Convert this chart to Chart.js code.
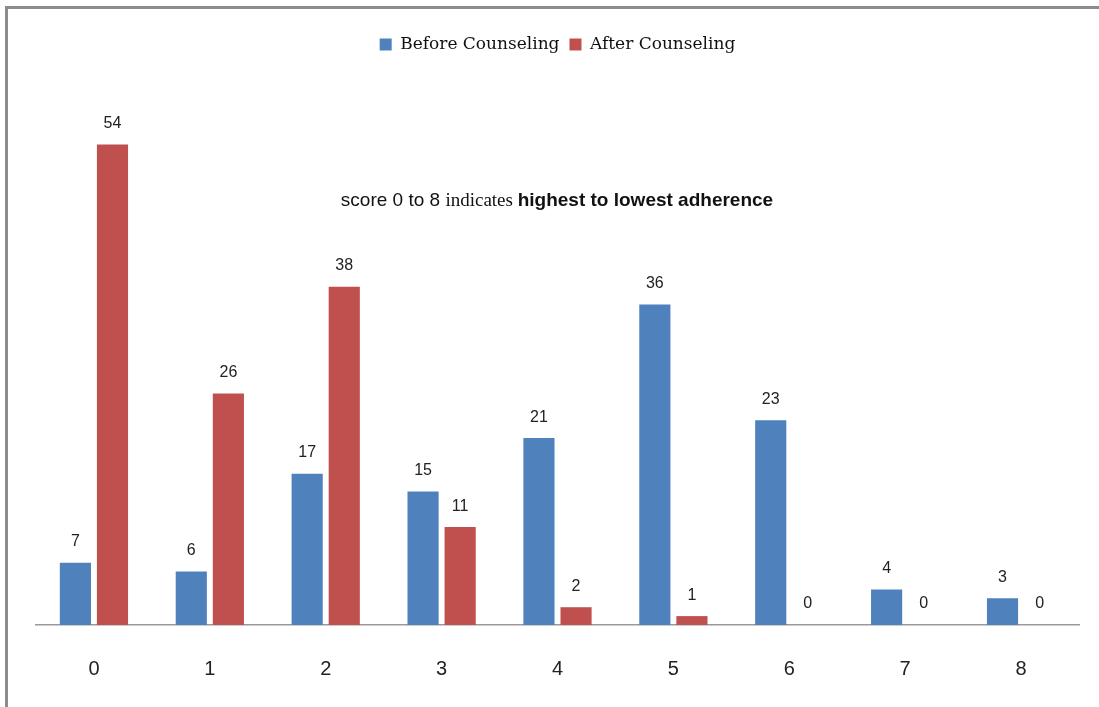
<!DOCTYPE html>
<html>
<head>
<meta charset="utf-8">
<script src="https://cdn.jsdelivr.net/npm/chart.js@4.4.1/dist/chart.umd.min.js"></script>
<style>
  html, body { margin: 0; padding: 0; background: #fff; }
  #wrap { position: relative; width: 1099px; height: 707px; }
</style>
</head>
<body>
<div id="wrap"><canvas id="adherenceChart"></canvas></div>
<script>
// adherence score (0 = highest, 8 = lowest)
var scores = ['0', '1', '2', '3', '4', '5', '6', '7', '8'];
var beforeCounseling = [7, 6, 17, 15, 21, 36, 23, 4, 3];
var afterCounseling  = [54, 26, 38, 11, 2, 1, 0, 0, 0];
var seriesNames = ['Before Counseling', 'After Counseling'];
var noteParts = [
    { text: 'score 0 to 8 ', font: '19px "Liberation Sans", Arial, sans-serif' },
    { text: 'indicates ', font: '19px "Liberation Serif", "DejaVu Serif", serif' },
    { text: 'highest to lowest adherence', font: 'bold 19px "Liberation Sans", Arial, sans-serif' }
];

// stretch legend box so plot area starts lower
var legendSpace = {
    id: 'legendSpace',
    beforeInit: function(chart) {
        var origFit = chart.legend.fit;
        chart.legend.fit = function() {
            origFit.bind(chart.legend)();
            this.height += 28;
        };
    }
};

var frameAndNote = {
    id: 'frameAndNote',
    beforeDraw: function(chart) {
        var ctx = chart.ctx;
        ctx.save();
        ctx.strokeStyle = '#8c8c8c';
        ctx.lineWidth = 3;
        ctx.beginPath();
        ctx.moveTo(6.5, 707);
        ctx.lineTo(6.5, 7.5);
        ctx.lineTo(1099, 7.5);
        ctx.stroke();
        ctx.restore();
    },
    afterDraw: function(chart) {
        var ctx = chart.ctx;
        ctx.save();
        ctx.fillStyle = '#111';
        ctx.textBaseline = 'middle';
        var total = 0;
        noteParts.forEach(function(p) { ctx.font = p.font; total += ctx.measureText(p.text).width; });
        var x = 557 - total / 2;
        noteParts.forEach(function(p) {
            ctx.font = p.font;
            ctx.fillText(p.text, x, 201);
            x += ctx.measureText(p.text).width;
        });
        ctx.restore();
    }
};

var valueLabels = {
    id: 'valueLabels',
    afterDatasetsDraw: function(chart) {
        var ctx = chart.ctx;
        ctx.save();
        ctx.font = '16px "Liberation Sans", Arial, sans-serif';
        ctx.fillStyle = '#222';
        ctx.textAlign = 'center';
        ctx.textBaseline = 'middle';
        chart.data.datasets.forEach(function(ds, i) {
            chart.getDatasetMeta(i).data.forEach(function(bar, j) {
                ctx.fillText(String(ds.data[j]), bar.x, bar.y - 21);
            });
        });
        ctx.restore();
    }
};

new Chart(document.getElementById('adherenceChart').getContext('2d'), {
    type: 'bar',
    data: {
        labels: scores,
        datasets: [
            { label: seriesNames[0], data: beforeCounseling, backgroundColor: '#4f81bd' },
            { label: seriesNames[1], data: afterCounseling, backgroundColor: '#c0504d' }
        ]
    },
    options: {
        responsive: true,
        maintainAspectRatio: false,
        animation: false,
        datasets: { bar: { categoryPercentage: 0.64, barPercentage: 0.84 } },
        layout: { padding: { top: 26, left: 36, right: 20, bottom: -6 } },
        scales: {
            x: {
                grid: { display: false, drawTicks: false },
                border: { display: true, color: '#9a9a9a', width: 1.5 },
                ticks: { color: '#222', padding: 32, font: { family: '"Liberation Sans", Arial, sans-serif', size: 20 } }
            },
            y: { display: false, min: 0, max: 60 }
        },
        plugins: {
            legend: {
                position: 'top',
                labels: {
                    boxWidth: 12, boxHeight: 12, padding: 10, color: '#111',
                    font: { family: '"DejaVu Serif", "Liberation Serif", serif', size: 17 }
                }
            },
            tooltip: { enabled: false }
        }
    },
    plugins: [legendSpace, frameAndNote, valueLabels]
});
</script>
</body>
</html>
